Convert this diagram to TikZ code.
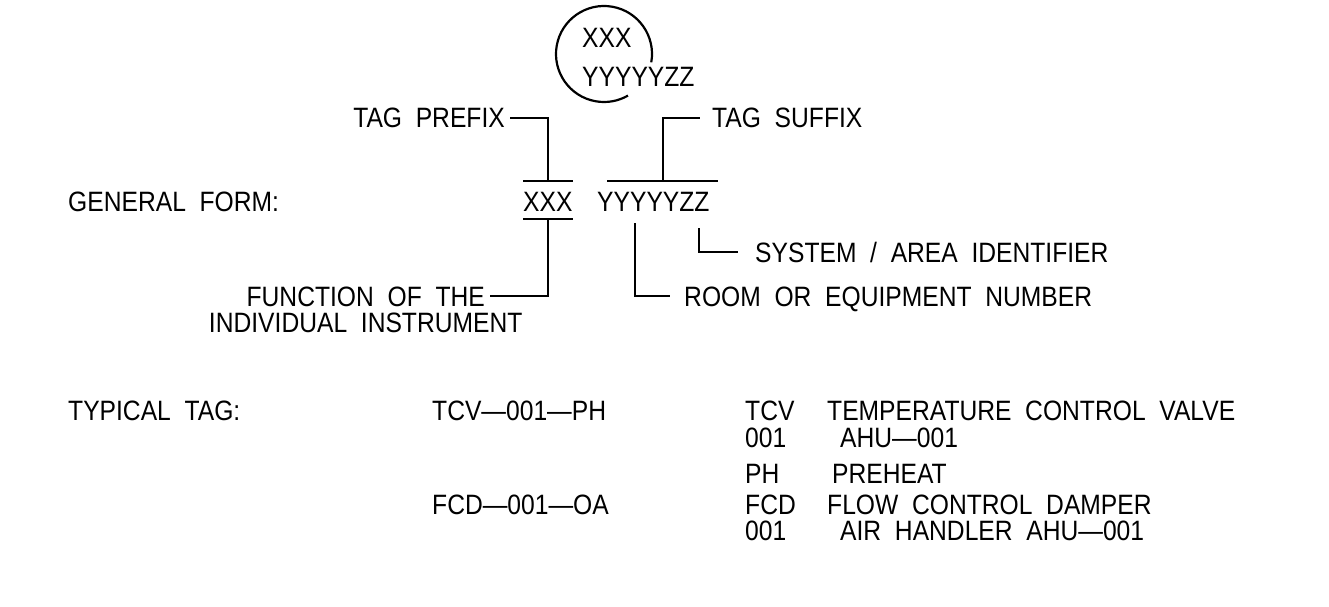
\documentclass[tikz,border=0pt]{standalone}
\usepackage{fontspec}
\setmainfont{Liberation Sans}[FakeStretch=0.88,WordSpace=2]
\usetikzlibrary{positioning}

\begin{document}
\begin{tikzpicture}[x=1pt,y=-1pt,
tagtxt/.style={inner sep=0pt, text height=20pt, text depth=0pt, font=\fontsize{28}{30}\selectfont},
lbl/.style={tagtxt, inner xsep=5pt},
leader/.style={line width=2.2pt}
]
\useasboundingbox (0,0) rectangle (1329,607);

% instrument bubble
\coordinate (bubble) at (604,54);
\draw[leader] (bubble) ++(-10:48pt) arc[start angle=-10, end angle=300, radius=48pt];
\node[tagtxt, anchor=west] (bxxx) at (582,38) {XXX};
\node[tagtxt, anchor=west] (byyy) at (582,77) {YYYYYZZ};

% general form
\node[tagtxt, anchor=west] (general) at (68,201) {GENERAL FORM:};
\node[tagtxt, anchor=west] (gxxx) at (523,201) {XXX};
\node[tagtxt, anchor=west] (gyyy) at (597,201) {YYYYYZZ};
\draw[leader] ([yshift=10pt]gxxx.north west) -- ([yshift=10pt]gxxx.north east);
\draw[leader] ([yshift=-8pt]gxxx.south west) -- ([yshift=-8pt]gxxx.south east);
\draw[leader] ([shift={(10pt,10pt)}]gyyy.north west) -- ([shift={(8pt,10pt)}]gyyy.north east);
\coordinate (ptop) at ([yshift=10pt]gxxx.north);
\coordinate (pbot) at ([yshift=-8pt]gxxx.south);
\coordinate (stop) at ([shift={(10pt,10pt)}]gyyy.north);
\coordinate (rtop) at ([shift={(38pt,-12pt)}]gyyy.south west);
\coordinate (atop) at ([shift={(-11pt,-17pt)}]gyyy.south east);

\node[lbl, anchor=east] (prefix) at (510,118) {TAG PREFIX};
\node[lbl, anchor=west, inner xsep=12pt] (suffix) at (700,118) {TAG SUFFIX};
\node[lbl, anchor=west, inner xsep=17pt] (sysid) at (738,252) {SYSTEM / AREA IDENTIFIER};
\node[lbl, anchor=west, inner xsep=14pt] (roomno) at (670,296) {ROOM OR EQUIPMENT NUMBER};
\node[lbl, anchor=east] (func) at (490,296) {FUNCTION OF THE};
\node[tagtxt, below=6pt of func] (indiv) {INDIVIDUAL INSTRUMENT};

\draw[leader] (prefix.east) -| (ptop);
\draw[leader] (stop) |- (suffix.west);
\draw[leader] (pbot) |- (func.east);
\draw[leader] (rtop) |- (roomno.west);
\draw[leader] (atop) |- (sysid.west);

% typical tags
\node[tagtxt, anchor=west] (typical) at (68,410) {TYPICAL TAG:};
\node[tagtxt, anchor=west] (tcvtag) at (432,410) {TCV---001---PH};
\node[tagtxt, anchor=west] (fcdtag) at (432,504) {FCD---001---OA};

\node[tagtxt, anchor=west] (ctcv) at (745,410) {TCV};
\node[tagtxt, anchor=west] (cone) at (745,437) {001};
\node[tagtxt, anchor=west] (cph) at (745,473) {PH};
\node[tagtxt, anchor=west] (cfcd) at (745,504) {FCD};
\node[tagtxt, anchor=west] (ctwo) at (745,530) {001};

\node[tagtxt, anchor=west] (dtcv) at (827,410) {TEMPERATURE CONTROL VALVE};
\node[tagtxt, anchor=west] (done) at (840,437) {AHU---001};
\node[tagtxt, anchor=west] (dph) at (832,473) {PREHEAT};
\node[tagtxt, anchor=west] (dfcd) at (827,504) {FLOW CONTROL DAMPER};
\node[tagtxt, anchor=west] (dtwo) at (840,530) {AIR HANDLER AHU---001};
\end{tikzpicture}
\end{document}
